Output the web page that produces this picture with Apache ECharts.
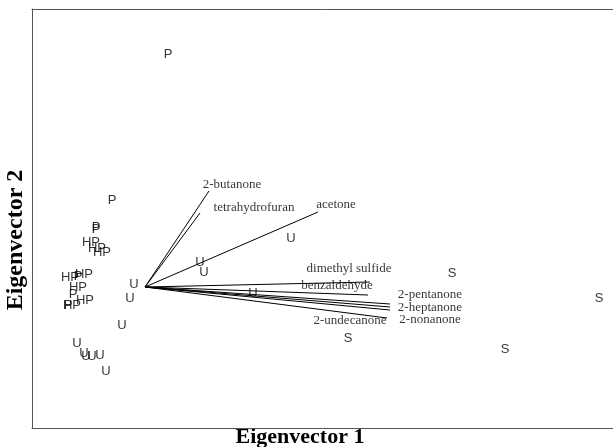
<!DOCTYPE html>
<html>
<head>
<meta charset="utf-8">
<script src="https://cdn.jsdelivr.net/npm/echarts@6/dist/echarts.min.js"></script>
<style>html,body{margin:0;padding:0;background:#fff}#c{width:613px;height:447px}</style>
</head>
<body>
<div id="c"></div>
<script>
// Score points (arbitrary eigenvector units)
var pPoints = [[0.23,2.33],[-0.33,0.87],[-0.49,0.60],[-0.49,0.58],[-0.67,0.11],[-0.72,-0.07],[-0.77,-0.18]];
var hpPoints = [[-0.54,0.45],[-0.48,0.39],[-0.43,0.35],[-0.75,0.10],[-0.61,0.13],[-0.67,0.00],[-0.60,-0.13],[-0.73,-0.18]];
var uPoints = [[-0.11,0.03],[-0.15,-0.11],[-0.23,-0.38],[-0.68,-0.56],[-0.61,-0.66],[-0.59,-0.69],[-0.53,-0.69],[-0.45,-0.68],[-0.39,-0.84],[1.46,0.49],[0.55,0.25],[0.59,0.15],[1.08,-0.06]];
var sPoints = [[3.07,0.14],[4.54,-0.11],[2.03,-0.51],[3.60,-0.62]];

// Loading vectors
var vectorNames = ['2-butanone','tetrahydrofuran','acetone','dimethyl sulfide','benzaldehyde','2-pentanone','2-heptanone','2-nonanone','2-undecanone'];
var vectorEnds = [[0.64,0.96],[0.55,0.74],[1.73,0.75],[2.25,0.05],[2.23,-0.08],[2.45,-0.17],[2.45,-0.20],[2.45,-0.23],[2.42,-0.31]];
var vectorLabelPos = [[0.87,1.02],[1.09,0.79],[1.91,0.82],[2.04,0.18],[1.92,0.01],[2.85,-0.08],[2.85,-0.21],[2.85,-0.33],[2.05,-0.34]];

var chart = echarts.init(document.getElementById('c'));

function letterSeries(name, pts) {
  return {
    type: 'scatter', name: name, data: pts, symbol: 'circle', symbolSize: 0,
    itemStyle: {color: '#000'},
    label: {show: true, position: 'inside', formatter: name, color: '#000', textBorderWidth: 0,
      fontFamily: 'Liberation Sans', fontSize: 13, align: 'center', verticalAlign: 'middle'},
    z: 3, silent: true
  };
}

var vecLabelData = vectorLabelPos.map(function (p, i) { return {value: p, name: vectorNames[i]}; });
var frameLine = {show: true, onZero: false, lineStyle: {color: '#555', width: 1}};

chart.setOption({
  animation: false,
  backgroundColor: '#fff',
  grid: {left: 32, top: 9, right: 0, bottom: 19, show: false},
  xAxis: [
    {type: 'value', position: 'bottom', min: -1.13, max: 4.68, axisLine: frameLine, axisTick: {show: false}, axisLabel: {show: false}, splitLine: {show: false}},
    {type: 'value', position: 'top', min: -1.13, max: 4.68, axisLine: frameLine, axisTick: {show: false}, axisLabel: {show: false}, splitLine: {show: false}}
  ],
  yAxis: {type: 'value', position: 'left', min: -1.41, max: 2.78, axisLine: frameLine, axisTick: {show: false}, axisLabel: {show: false}, splitLine: {show: false}},
  graphic: [
    {type: 'text', x: 300, y: 437, style: {text: 'Eigenvector 1', font: 'bold 22px "Liberation Serif"', fill: '#000', textAlign: 'center', textVerticalAlign: 'middle'}},
    {type: 'text', rotation: Math.PI / 2, x: 16, y: 240, style: {text: 'Eigenvector 2', font: 'bold 24px "Liberation Serif"', fill: '#000', textAlign: 'center', textVerticalAlign: 'middle'}}
  ],
  series: [
    {
      type: 'lines', coordinateSystem: 'cartesian2d', polyline: false, silent: true,
      lineStyle: {color: '#000', width: 1, opacity: 1},
      data: vectorEnds.map(function (e) { return {coords: [[0, 0], e]}; }),
      z: 4
    },
    {
      type: 'scatter', data: vecLabelData, symbol: 'circle', symbolSize: 0,
      itemStyle: {color: '#000'},
      label: {show: true, position: 'inside', formatter: '{b}', color: '#000', textBorderWidth: 0,
        fontFamily: 'Liberation Serif', fontSize: 13, align: 'center', verticalAlign: 'middle'},
      z: 3, silent: true
    },
    letterSeries('P', pPoints),
    letterSeries('HP', hpPoints),
    letterSeries('U', uPoints),
    letterSeries('S', sPoints)
  ]
});
</script>
</body>
</html>
